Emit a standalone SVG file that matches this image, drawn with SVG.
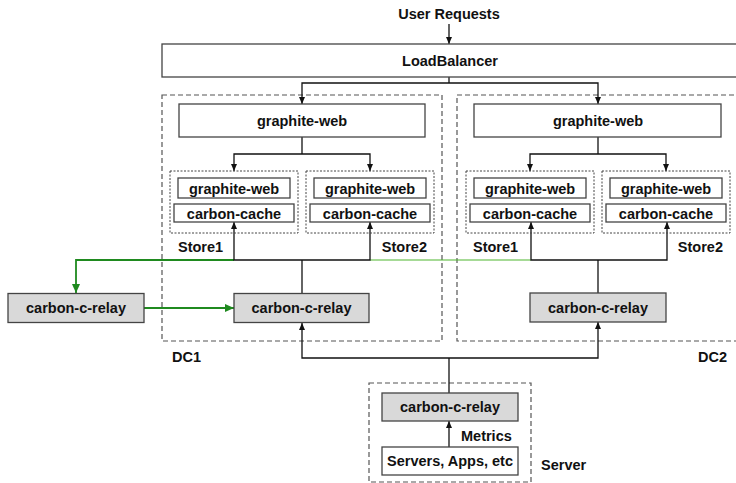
<svg xmlns="http://www.w3.org/2000/svg" width="736" height="483" viewBox="0 0 736 483">
<defs>
<style>
text{font-family:"Liberation Sans",Arial,Helvetica,sans-serif;font-weight:bold;font-size:14.5px;fill:#111;}
.c{text-anchor:middle;dominant-baseline:central;}
.box{fill:#fff;stroke:#444;stroke-width:1.3;}
.relay{fill:#d9d9d9;stroke:#444;stroke-width:1.3;}
.dc{fill:none;stroke:#555;stroke-width:1.2;stroke-dasharray:5,3;}
.store{fill:none;stroke:#444;stroke-width:1;stroke-dasharray:2,1.5;}
.ln{fill:none;stroke:#111;stroke-width:1.3;}
.arr{marker-end:url(#ah);}
.g{fill:none;stroke:#1f8a1f;stroke-width:1.8;}
.g2{fill:none;stroke:#4fb52e;stroke-width:1.2;}
</style>
<marker id="ah" markerWidth="8" markerHeight="8" refX="7" refY="4" orient="auto" markerUnits="userSpaceOnUse">
<path d="M0,1 L7,4 L0,7 Z" fill="#111"/>
</marker>
<marker id="ahg" markerWidth="10" markerHeight="10" refX="9" refY="5" orient="auto" markerUnits="userSpaceOnUse">
<path d="M0,1 L9,5 L0,9 Z" fill="#1f8a1f"/>
</marker>
</defs>

<g id="containers">
<rect class="dc" x="162" y="95" width="280" height="246"/>
<rect class="dc" x="457" y="95" width="290" height="246"/>
<rect class="dc" x="369" y="383" width="162" height="99"/>
<text x="172" y="357" dominant-baseline="central">DC1</text>
<text x="727" y="357" text-anchor="end" dominant-baseline="central">DC2</text>
<text x="541" y="465" dominant-baseline="central">Server</text>
</g>

<g id="connectors">
<line class="ln arr" x1="449" y1="24" x2="449" y2="44"/>
<polyline class="ln" points="449,77 449,83"/>
<polyline class="ln arr" points="449,83 302,83 302,104"/>
<polyline class="ln arr" points="449,83 598,83 598,104"/>
<polyline class="ln" points="302,137 302,154"/>
<polyline class="ln arr" points="302,154 234,154 234,171"/>
<polyline class="ln arr" points="302,154 370,154 370,171"/>
<polyline class="ln" points="598,137 598,154"/>
<polyline class="ln arr" points="598,154 530,154 530,171"/>
<polyline class="ln arr" points="598,154 666,154 666,171"/>
<polyline class="g2" points="531,260 370,260"/>
<polyline class="g" points="234,260 76,260 76,293" marker-end="url(#ahg)"/>
<line class="g" x1="144" y1="308" x2="234" y2="308" marker-end="url(#ahg)"/>
<polyline class="ln" points="302,294 302,260"/>
<polyline class="ln arr" points="302,260 234,260 234,222"/>
<polyline class="ln arr" points="302,260 370,260 370,222"/>
<polyline class="ln" points="598,293 598,260"/>
<polyline class="ln arr" points="598,260 531,260 531,222"/>
<polyline class="ln arr" points="598,260 667,260 667,222"/>
<polyline class="ln" points="449,393 449,358"/>
<polyline class="ln arr" points="449,358 302,358 302,323"/>
<polyline class="ln arr" points="449,358 598,358 598,322"/>
<line class="ln arr" x1="449" y1="447" x2="449" y2="421"/>
</g>

<g id="user-requests"><text class="c" x="449" y="14">User Requests</text></g>

<g id="loadbalancer">
<rect class="box" x="162" y="44" width="590" height="33"/>
<text class="c" x="450" y="61">LoadBalancer</text>
</g>

<g id="dc1-graphite-web">
<rect class="box" x="179" y="104" width="246" height="33"/>
<text class="c" x="302" y="121">graphite-web</text>
</g>
<g id="dc2-graphite-web">
<rect class="box" x="474" y="104" width="247" height="33"/>
<text class="c" x="598" y="121">graphite-web</text>
</g>

<g id="dc1-store1">
<rect class="store" x="170" y="171" width="128" height="62"/>
<rect class="box" x="178" y="178" width="112" height="20"/>
<text class="c" x="234" y="188.5">graphite-web</text>
<rect class="box" x="174" y="204" width="120" height="18"/>
<text class="c" x="234" y="213.5">carbon-cache</text>
<text x="178" y="247" dominant-baseline="central">Store1</text>
</g>
<g id="dc1-store2">
<rect class="store" x="306" y="171" width="128" height="62"/>
<rect class="box" x="314" y="178" width="112" height="20"/>
<text class="c" x="370" y="188.5">graphite-web</text>
<rect class="box" x="310" y="204" width="120" height="18"/>
<text class="c" x="370" y="213.5">carbon-cache</text>
<text x="427" y="247" text-anchor="end" dominant-baseline="central">Store2</text>
</g>
<g id="dc2-store1">
<rect class="store" x="466" y="171" width="128" height="62"/>
<rect class="box" x="474" y="178" width="112" height="20"/>
<text class="c" x="530" y="188.5">graphite-web</text>
<rect class="box" x="470" y="204" width="120" height="18"/>
<text class="c" x="530" y="213.5">carbon-cache</text>
<text x="473" y="247" dominant-baseline="central">Store1</text>
</g>
<g id="dc2-store2">
<rect class="store" x="602" y="171" width="128" height="62"/>
<rect class="box" x="610" y="178" width="112" height="20"/>
<text class="c" x="666" y="188.5">graphite-web</text>
<rect class="box" x="606" y="204" width="120" height="18"/>
<text class="c" x="666" y="213.5">carbon-cache</text>
<text x="723" y="247" text-anchor="end" dominant-baseline="central">Store2</text>
</g>

<g id="left-relay">
<rect class="relay" x="8" y="293.5" width="136" height="29"/>
<text class="c" x="76" y="308">carbon-c-relay</text>
</g>
<g id="dc1-relay">
<rect class="relay" x="234" y="293.5" width="135" height="29"/>
<text class="c" x="301.5" y="308">carbon-c-relay</text>
</g>
<g id="dc2-relay">
<rect class="relay" x="530" y="293" width="136" height="29"/>
<text class="c" x="598" y="307.5">carbon-c-relay</text>
</g>

<g id="server-relay">
<rect class="relay" x="382" y="393" width="136" height="28"/>
<text class="c" x="450" y="407">carbon-c-relay</text>
</g>
<g id="servers">
<rect class="box" x="382" y="447" width="136" height="28"/>
<text class="c" x="450" y="461">Servers, Apps, etc</text>
</g>
<g id="metrics-label"><text x="461" y="436" dominant-baseline="central">Metrics</text></g>
</svg>
